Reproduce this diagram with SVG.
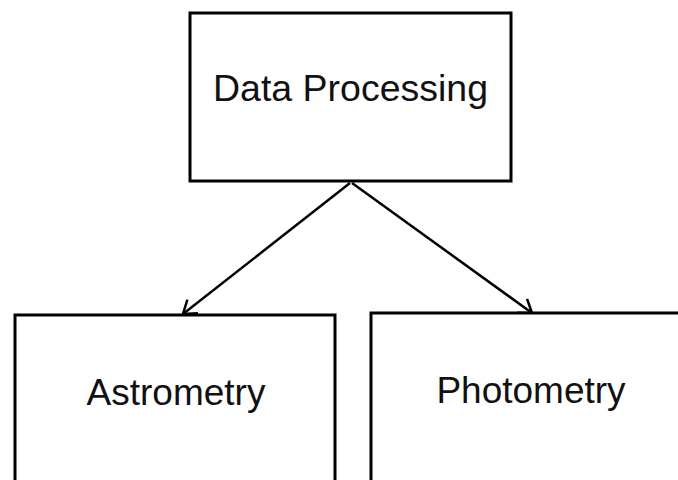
<svg xmlns="http://www.w3.org/2000/svg" width="678" height="480" viewBox="0 0 678 480">
<style>
.box{fill:#fff;stroke:#000;stroke-width:3}
.lbl{font-family:"Liberation Sans",Arial,sans-serif;font-size:37px;fill:#111;text-anchor:middle}
.edge{stroke:#000;stroke-width:2.5;fill:none}
</style>
<defs>
<marker id="arr" markerUnits="userSpaceOnUse" viewBox="-16 -12 20 24" refX="0" refY="0" markerWidth="20" markerHeight="24" orient="auto" overflow="visible">
<path d="M-12.3,-8.6 L0,0 L-12.3,8.6" fill="none" stroke="#000" stroke-width="2.5"/>
</marker>
</defs>
<rect width="678" height="480" fill="#fff"/>
<g id="connectors">
<line class="edge" x1="350" y1="183" x2="183" y2="314" marker-end="url(#arr)"/>
<line class="edge" x1="352" y1="183" x2="532" y2="313" marker-end="url(#arr)"/>
</g>
<g id="node-data-processing">
<rect class="box" x="190" y="13" width="321" height="168"/>
<text class="lbl" x="350.5" y="101" textLength="275" lengthAdjust="spacingAndGlyphs">Data Processing</text>
</g>
<g id="node-astrometry">
<rect class="box" x="15" y="315" width="320" height="180"/>
<text class="lbl" x="176" y="405">Astrometry</text>
</g>
<g id="node-photometry">
<rect class="box" x="371" y="313" width="330" height="180"/>
<text class="lbl" x="531" y="403">Photometry</text>
</g>
</svg>
